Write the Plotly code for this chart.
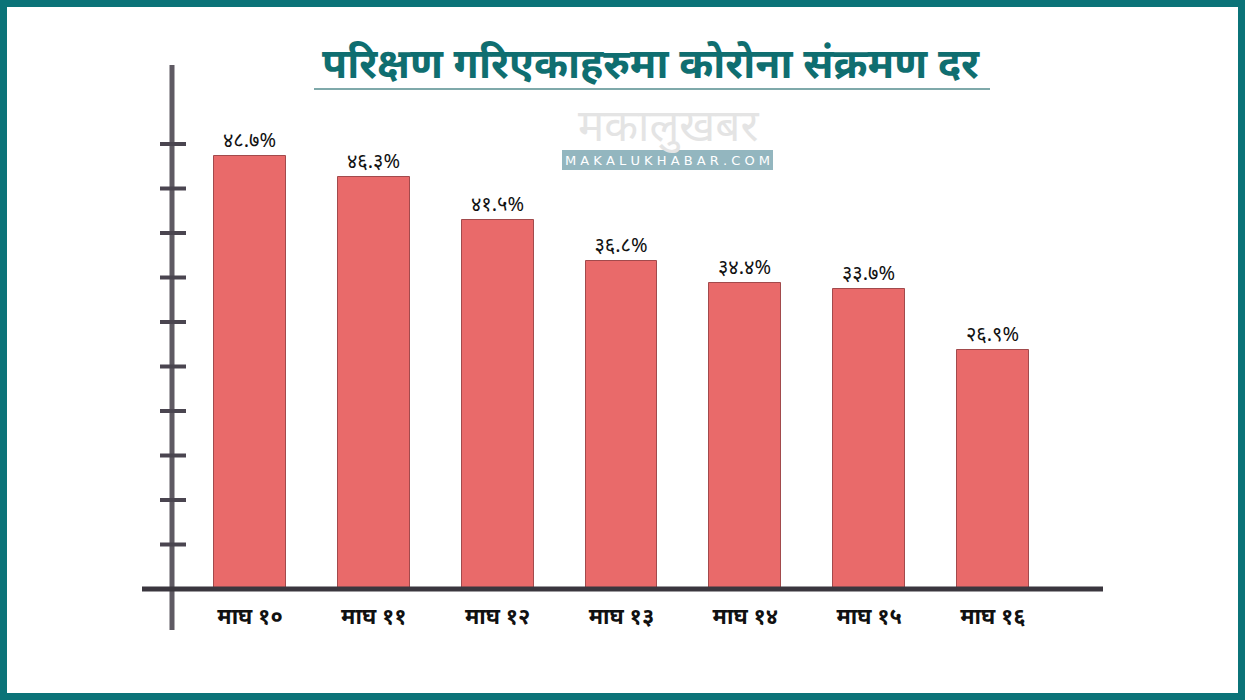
import plotly.graph_objects as go

# ---- data ----
dates = ["माघ १०", "माघ ११", "माघ १२", "माघ १३", "माघ १४", "माघ १५", "माघ १६"]
rates = [48.7, 46.3, 41.5, 36.8, 34.4, 33.7, 26.9]
y_ticks = [5, 10, 15, 20, 25, 30, 35, 40, 45, 50]
title_text = "परिक्षण गरिएकाहरुमा कोरोना संक्रमण दर"

DEV = str.maketrans("0123456789", "०१२३४५६७८९")
labels = [(f"{v:.1f}%").translate(DEV) for v in rates]

W, H = 1245, 700
BASE = 589  # pixel row of zero line
FONT = "Noto Sans, Noto Sans Devanagari, sans-serif"


def px(p):
    return p / W


def py(p):
    return (BASE - p) / BASE


fig = go.Figure(
    go.Bar(
        x=dates,
        y=rates,
        width=0.58,
        marker=dict(color="#e96a6a", line=dict(color="#a24a4c", width=1)),
        text=labels,
        textposition="outside",
        textfont=dict(family=FONT, size=20, color="#111111"),
        cliponaxis=False,
        hoverinfo="skip",
    )
)

shapes = []
# frame
shapes.append(dict(type="rect", xref="paper", yref="paper", x0=px(0), x1=px(W), y0=py(0), y1=py(H),
                   line=dict(color="#0b7378", width=14), layer="above"))
# y axis line
shapes.append(dict(type="line", xref="paper", yref="paper", x0=px(172), x1=px(172), y0=py(65), y1=py(630),
                   line=dict(color="#5f5a63", width=5)))
# tick marks
for v in y_ticks:
    shapes.append(dict(type="line", xref="paper", yref="y", x0=px(160), x1=px(186), y0=v, y1=v,
                       line=dict(color="#4a4550", width=4)))
# x axis line
shapes.append(dict(type="line", xref="paper", yref="paper", x0=px(142), x1=px(1103), y0=py(589), y1=py(589),
                   line=dict(color="#3a363e", width=5), layer="above"))
# title underline
shapes.append(dict(type="line", xref="paper", yref="paper", x0=px(314), x1=px(990), y0=py(89), y1=py(89),
                   line=dict(color="#7fa9aa", width=2)))
# watermark box
shapes.append(dict(type="rect", xref="paper", yref="paper", x0=px(562), x1=px(773), y0=py(150), y1=py(170),
                   line=dict(width=0), fillcolor="#93b6bf"))

annotations = [
    dict(text=f"<b>{title_text}</b>", xref="paper", yref="paper", x=px(651), y=py(62),
         showarrow=False, font=dict(family=FONT, size=41, color="#0f6e70"), xanchor="center", yanchor="middle"),
    dict(text="मकालुखबर", xref="paper", yref="paper", x=px(668), y=py(124),
         showarrow=False, font=dict(family=FONT, size=44, color="#e4e4e4"), xanchor="center", yanchor="middle"),
    dict(text="M A K A L U K H A B A R . C O M", xref="paper", yref="paper", x=px(667), y=py(160),
         showarrow=False, font=dict(family="DejaVu Sans", size=13, color="#ffffff"), xanchor="center",
         yanchor="middle"),
]

fig.update_layout(
    width=W,
    height=H,
    margin=dict(l=0, r=0, t=0, b=H - BASE, pad=0),
    paper_bgcolor="white",
    plot_bgcolor="white",
    showlegend=False,
    shapes=shapes,
    annotations=annotations,
    bargap=0,
    xaxis=dict(
        type="category",
        range=[-250 / 123.83, (W - 250) / 123.83],
        showgrid=False,
        zeroline=False,
        showline=False,
        ticks="",
        tickfont=dict(family=FONT, size=22, color="#111111", weight="bold"),
        ticklabelstandoff=12,
    ),
    yaxis=dict(
        range=[0, BASE / 8.9],
        showgrid=False,
        zeroline=False,
        showline=False,
        showticklabels=False,
        ticks="",
    ),
)

fig.write_html("out.html")
